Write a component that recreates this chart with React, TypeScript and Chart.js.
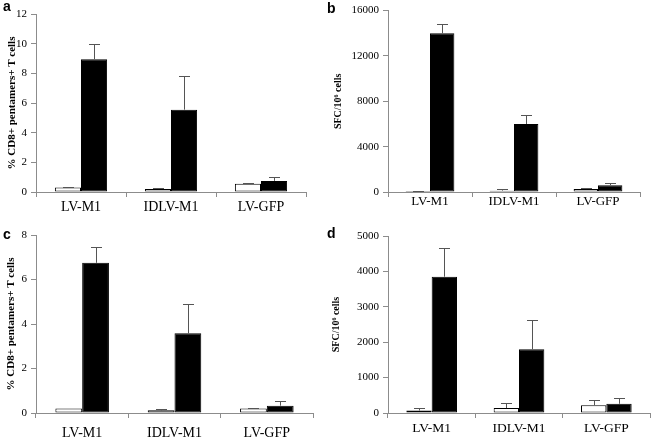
import React, { useEffect, useRef } from 'react';
import { Chart, registerables } from 'chart.js';

Chart.register(...registerables);

const categories = ['LV-M1', 'IDLV-M1', 'LV-GFP'];

// Panel a: % CD8+ pentamers+ T cells
const aWhite = [0.3, 0.2, 0.55];
const aWhiteErr = [0.05, 0.05, 0.05];
const aBlack = [8.95, 5.55, 0.75];
const aBlackErr = [1.05, 2.3, 0.25];
const aYMax = 12;
const aYStep = 2;

// Panel b: SFC/10^6 cells
const bWhite = [80, 120, 260];
const bWhiteErr = [20, 110, 70];
const bBlack = [14000, 6000, 600];
const bBlackErr = [800, 800, 200];
const bYMax = 16000;
const bYStep = 4000;

// Panel c: % CD8+ pentamers+ T cells
const cWhite = [0.2, 0.12, 0.2];
const cWhiteErr = [0, 0.06, 0.03];
const cBlack = [6.75, 3.58, 0.33];
const cBlackErr = [0.7, 1.3, 0.22];
const cYMax = 8;
const cYStep = 2;

// Panel d: SFC/10^6 cells
const dWhite = [70, 140, 220];
const dWhiteErr = [60, 150, 150];
const dBlack = [3850, 1800, 260];
const dBlackErr = [820, 830, 150];
const dYMax = 5000;
const dYStep = 1000;

const SERIF = '"Liberation Serif", "Times New Roman", serif';
const SANS = '"Liberation Sans", Arial, sans-serif';
const AXIS = '#8c8c8c';

const errorBars = {
  id: 'errorBars',
  afterDatasetsDraw(chart: any, _args: any, opts: any) {
    const { ctx } = chart;
    const ys = chart.scales.y;
    chart.data.datasets.forEach((ds: any, di: number) => {
      const meta = chart.getDatasetMeta(di);
      meta.data.forEach((bar: any, i: number) => {
        const e = ds.errors ? ds.errors[i] : 0;
        if (!e) return;
        const v = ds.data[i];
        const x = Math.round(bar.x) + 0.5;
        const y0 = ys.getPixelForValue(v);
        const y1 = Math.round(ys.getPixelForValue(v + e)) + 0.5;
        ctx.save();
        ctx.strokeStyle = opts.color || '#555';
        ctx.lineWidth = 1;
        ctx.beginPath();
        ctx.moveTo(x, y0);
        ctx.lineTo(x, y1);
        ctx.moveTo(x - (opts.cap || 5), y1);
        ctx.lineTo(x + (opts.cap || 5), y1);
        ctx.stroke();
        ctx.restore();
      });
    });
  },
};

const panelLabel = {
  id: 'panelLabel',
  afterDraw(chart: any, _args: any, opts: any) {
    const { ctx } = chart;
    ctx.save();
    ctx.font = `bold ${opts.size || 14}px ${SANS}`;
    ctx.fillStyle = '#000';
    ctx.textAlign = 'left';
    ctx.textBaseline = 'alphabetic';
    ctx.fillText(opts.text, opts.x, opts.y);
    ctx.restore();
  },
};

type Panel = {
  letter: string;
  letterX: number;
  letterY: number;
  white: number[];
  whiteErr: number[];
  black: number[];
  blackErr: number[];
  yMax: number;
  yStep: number;
  yTitle: string;
  yTitleSize: number;
  yTitlePad: number;
  yWidth: number;
  padTop: number;
  padRight: number;
  xHeight: number;
  xFont: number;
  xPad: number;
  left: number;
  top: number;
  width: number;
  height: number;
};

const panels: Panel[] = [
  {
    letter: 'a', letterX: 3, letterY: 11,
    white: aWhite, whiteErr: aWhiteErr, black: aBlack, blackErr: aBlackErr,
    yMax: aYMax, yStep: aYStep,
    yTitle: '% CD8+ pentamers+ T cells', yTitleSize: 11, yTitlePad: 5.4,
    yWidth: 36, padTop: 14, padRight: 19, xHeight: 28, xFont: 14, xPad: 1.6,
    left: 0, top: 0, width: 325, height: 220,
  },
  {
    letter: 'b', letterX: 2, letterY: 13,
    white: bWhite, whiteErr: bWhiteErr, black: bBlack, blackErr: bBlackErr,
    yMax: bYMax, yStep: bYStep,
    yTitle: 'SFC/10⁶ cells', yTitleSize: 10, yTitlePad: 7,
    yWidth: 63, padTop: 9, padRight: 11, xHeight: 28, xFont: 13, xPad: -2.8,
    left: 325, top: 0, width: 326, height: 220,
  },
  {
    letter: 'c', letterX: 3, letterY: 19,
    white: cWhite, whiteErr: cWhiteErr, black: cBlack, blackErr: cBlackErr,
    yMax: cYMax, yStep: cYStep,
    yTitle: '% CD8+ pentamers+ T cells', yTitleSize: 11, yTitlePad: 4.4,
    yWidth: 36, padTop: 15, padRight: 12, xHeight: 28, xFont: 14, xPad: 6.6,
    left: 0, top: 220, width: 325, height: 221,
  },
  {
    letter: 'd', letterX: 2, letterY: 18,
    white: dWhite, whiteErr: dWhiteErr, black: dBlack, blackErr: dBlackErr,
    yMax: dYMax, yStep: dYStep,
    yTitle: 'SFC/10⁶ cells', yTitleSize: 10, yTitlePad: 5,
    yWidth: 63, padTop: 16, padRight: 1, xHeight: 28, xFont: 13.5, xPad: 1.9,
    left: 325, top: 220, width: 326, height: 221,
  },
];

function makeConfig(p: Panel): any {
  return {
    type: 'bar',
    data: {
      labels: categories,
      datasets: [
        {
          data: p.white, errors: p.whiteErr,
          backgroundColor: '#ffffff', borderColor: '#000000', borderWidth: 1, borderSkipped: false,
        },
        {
          data: p.black, errors: p.blackErr,
          backgroundColor: '#000000', borderColor: '#000000', borderWidth: 1, borderSkipped: false,
        },
      ],
    },
    options: {
      responsive: false,
      animation: false,
      devicePixelRatio: 1,
      layout: { padding: { left: 0, top: p.padTop, right: p.padRight, bottom: 0 } },
      datasets: { bar: { categoryPercentage: 0.58, barPercentage: 1 } },
      plugins: {
        legend: { display: false },
        tooltip: { enabled: false },
        errorBars: { color: '#555555', cap: 5.5 },
        panelLabel: { text: p.letter, x: p.letterX, y: p.letterY, size: 14 },
      },
      scales: {
        x: {
          offset: true,
          grid: { offset: true, drawOnChartArea: false, drawTicks: true, tickLength: 5, color: AXIS },
          border: { display: true, color: AXIS },
          ticks: {
            color: '#000', font: { family: SERIF, size: p.xFont }, padding: p.xPad,
            maxRotation: 0, autoSkip: false,
          },
          afterFit: (s: any) => { s.height = p.xHeight; },
        },
        y: {
          min: 0,
          max: p.yMax,
          grid: { drawOnChartArea: false, drawTicks: true, tickLength: 5, color: AXIS },
          border: { display: true, color: AXIS },
          ticks: {
            stepSize: p.yStep, color: '#000', font: { family: SERIF, size: 11 }, padding: 4,
            callback: (v: any) => String(v),
          },
          title: {
            display: true, text: p.yTitle, color: '#000',
            font: { family: SERIF, size: p.yTitleSize, weight: 'bold' },
            padding: { top: p.yTitlePad, bottom: 0 },
          },
          afterFit: (s: any) => { s.width = p.yWidth; },
        },
      },
    },
    plugins: [errorBars, panelLabel],
  };
}

function PanelChart({ p }: { p: Panel }) {
  const ref = useRef<HTMLCanvasElement | null>(null);
  useEffect(() => {
    if (!ref.current) return;
    const chart = new Chart(ref.current, makeConfig(p));
    return () => chart.destroy();
  }, [p]);
  return (
    <canvas
      ref={ref}
      width={p.width}
      height={p.height}
      style={{ position: 'absolute', left: p.left, top: p.top, width: p.width, height: p.height }}
    />
  );
}

export default function App() {
  return (
    <div style={{ position: 'absolute', left: 0, top: 0, width: 651, height: 441, background: '#fff' }}>
      {panels.map((p) => (
        <PanelChart key={p.letter} p={p} />
      ))}
    </div>
  );
}
